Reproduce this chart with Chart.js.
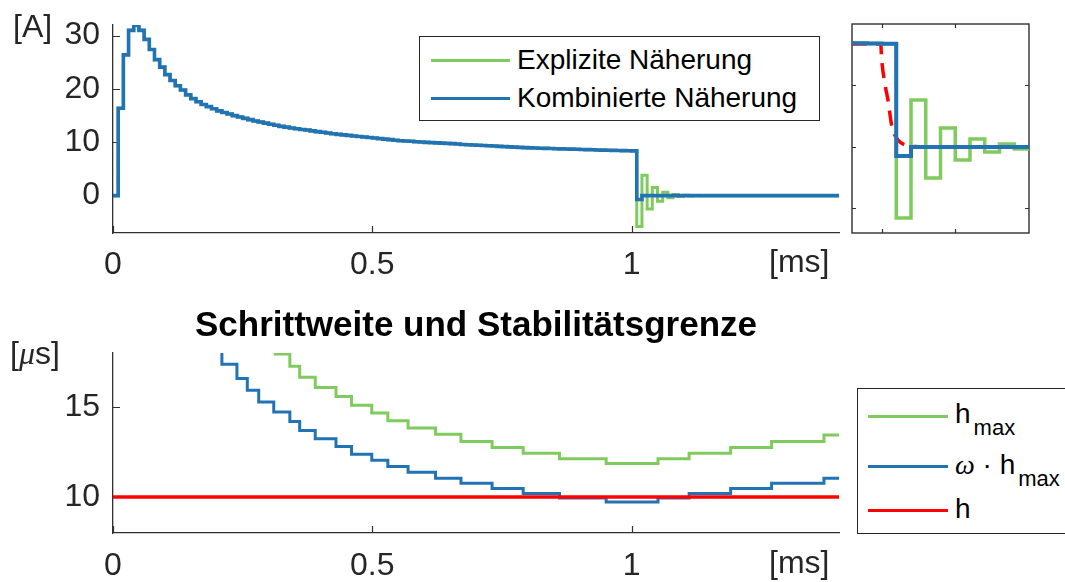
<!DOCTYPE html>
<html>
<head>
<meta charset="utf-8">
<script src="https://cdn.jsdelivr.net/npm/chart.js@4/dist/chart.umd.min.js"></script>
<style>
  html, body { margin:0; padding:0; background:#fff; }
  body { width:1065px; height:582px; overflow:hidden; position:relative;
         font-family:"Liberation Sans", Arial, Helvetica, sans-serif; }
  canvas { position:absolute; }
  .txt { position:absolute; white-space:nowrap; color:#262626; }
  .unit { font-size:32px; line-height:32px; }
  .greek { font-family:"Liberation Serif", "DejaVu Serif", serif; font-style:italic; }
  .legbox { position:absolute; border:1px solid #262626; background:#fff; box-sizing:border-box; }
  .swatch { position:absolute; height:3px; }
  .legtxt { position:absolute; white-space:nowrap; color:#000; font-size:28px; line-height:28px; }
  .sub { font-size:22px; vertical-align:-12px; margin-left:3px; }
</style>
</head>
<body>
<canvas id="mainChart" width="850" height="293" style="left:0;top:0"></canvas>
<canvas id="insetChart" width="205" height="250" style="left:840px;top:0"></canvas>
<canvas id="stepChart" width="952" height="290" style="left:0;top:300px"></canvas>

<div class="txt unit" style="left:13px;top:10px">[A]</div>
<div class="txt unit" style="left:769px;top:245px">[ms]</div>
<div class="txt unit" style="left:10px;top:337px">[<span class="greek">μ</span>s]</div>
<div class="txt unit" style="left:769px;top:546px">[ms]</div>

<div id="legendTop"></div>
<div id="legendBottom"></div>

<script>
// ================= DATA =================
// Time grid of the simulation: constant step h = 10 µs = 0.01 ms
const stepMs = 0.01;
const switchMs = 1.01;   // first step after the switching event
const endMs = 1.4;

// Current [A] per step, identical for both approximations up to the switching (t = 0 ... 1.00 ms)
const currentShared = [
  0, 16.4, 26.4, 31.0, 31.9, 31.0, 29.3, 27.4, 25.5, 24.1,
  22.7, 21.6, 20.6, 19.8, 18.9, 18.2, 17.6, 17.1, 16.7, 16.3,
  15.9, 15.6, 15.3, 15.0, 14.75, 14.5, 14.25, 14.0, 13.8, 13.6,
  13.4, 13.2, 13.0, 12.85, 12.7, 12.55, 12.4, 12.3, 12.15, 12.0,
  11.9, 11.75, 11.6, 11.5, 11.4, 11.3, 11.2, 11.1, 11.0, 10.9,
  10.8, 10.7, 10.6, 10.5, 10.4, 10.3, 10.25, 10.2, 10.1, 10.05,
  10.0, 9.95, 9.9, 9.85, 9.8, 9.75, 9.7, 9.6, 9.55, 9.5,
  9.45, 9.4, 9.35, 9.3, 9.25, 9.2, 9.15, 9.1, 9.05, 9.0,
  8.97, 8.94, 8.9, 8.87, 8.84, 8.81, 8.78, 8.75, 8.72, 8.69,
  8.66, 8.63, 8.6, 8.57, 8.54, 8.51, 8.49, 8.46, 8.44, 8.42,
  8.4
];
// After the switching (from 1.01 ms), last value held to the end
const currentKombAfter = [-0.73, 0];
const currentExplAfter = [-5.78, 3.82, -2.52, 1.55, -1.06, 0.65, -0.41, 0.24, -0.16, 0.1, -0.06, 0.03, 0];

// Exact solution shown in the zoom window (red dashed)
const exactTimeMs  = [0.98, 0.9995, 1.0, 1.0022, 1.0044, 1.0071, 1.0112, 1.016, 1.0227, 1.03, 1.10];
const exactCurrent = [8.38, 8.38, 7.3, 5.2, 3.8, 1.63, 0.57, 0.16, 0.03, 0, 0];

const mainXTicks = [0, 0.5, 1];
const mainXTickLabels = ['0', '0.5', '1'];
const mainYTicks = [0, 10, 20, 30];
const mainYTickLabels = ['0', '10', '20', '30'];
const insetXTicks = [1.0, 1.05];
const insetYTicks = [-5, 0, 5];

// Step size plot [µs]: times where the step functions change [ms]
const stepChangeMs = [0.21, 0.239, 0.259, 0.281, 0.310, 0.341, 0.360, 0.390, 0.430, 0.460,
                      0.499, 0.530, 0.569, 0.622, 0.671, 0.731, 0.791, 0.861, 0.951, 1.051,
                      1.111, 1.191, 1.270, 1.371];
const omegaHmaxUs = [17.37, 16.58, 15.93, 15.28, 14.72, 14.2, 13.7, 13.24, 12.8, 12.37,
                     12.04, 11.69, 11.37, 11.04, 10.76, 10.47, 10.2, 9.94, 9.72, 9.94,
                     10.2, 10.47, 10.76, 11.04];
const omegaHmaxAboveUs = 18.6;   // level before the first visible step (above the axis)
const hmaxUs = [17.94, 17.26, 16.65, 16.09, 15.59, 15.1, 14.66, 14.23, 13.83, 13.49,
                13.08, 12.75, 12.43, 12.13, 11.86, 12.13, 12.43, 12.75, 13.08, 13.45]; // from 0.310 ms
const hUs = 10;

const stepYTicks = [10, 15];
const stepYTickLabels = ['10', '15'];

const seriesNames = {
  expl: 'Explizite Näherung',
  komb: 'Kombinierte Näherung',
  hmax: 'h_max',
  omega: 'ω · h_max',
  h: 'h'
};
const stepTitle = 'Schrittweite und Stabilitätsgrenze';

// ================= BUILD =================
const GREEN = '#80CB5E';
const BLUE = '#2173B3';
const RED = '#FF0000';
const AXIS = '#303030';
const FONT = '"Liberation Sans", Arial, Helvetica, sans-serif';

function stepSeries(shared, after) {
  const pts = shared.map((v, i) => ({ x: i * stepMs, y: v }));
  after.forEach((v, j) => pts.push({ x: switchMs + j * stepMs, y: v }));
  pts.push({ x: endMs, y: after[after.length - 1] });
  return pts;
}
const kombPts = stepSeries(currentShared, currentKombAfter);
const explPts = stepSeries(currentShared, currentExplAfter);
const exactPts = exactTimeMs.map((t, i) => ({ x: t, y: exactCurrent[i] }));

const omegaPts = [{ x: stepChangeMs[0] - 0.02, y: omegaHmaxAboveUs }]
  .concat(stepChangeMs.map((t, i) => ({ x: t, y: omegaHmaxUs[i] })))
  .concat([{ x: endMs, y: omegaHmaxUs[omegaHmaxUs.length - 1] }]);
const hmaxOffset = stepChangeMs.length - hmaxUs.length;
const hmaxPts = hmaxUs.map((v, k) => ({ x: stepChangeMs[hmaxOffset + k], y: v }))
  .concat([{ x: endMs, y: hmaxUs[hmaxUs.length - 1] }]);
const hPts = [{ x: 0, y: hUs }, { x: endMs, y: hUs }];

// Inward tick marks (and optional full box)
const axesDecor = {
  id: 'axesDecor',
  beforeDatasetsDraw(chart, args, o) {
    const { ctx, chartArea: a, scales } = chart;
    ctx.save();
    ctx.strokeStyle = o.color || AXIS;
    ctx.lineWidth = o.width || 1.2;
    ctx.beginPath();
    (o.xTicks || []).forEach(v => {
      const px = Math.round(scales.x.getPixelForValue(v)) + 0.5;
      ctx.moveTo(px, a.bottom); ctx.lineTo(px, a.bottom - o.len);
      if (o.box) { ctx.moveTo(px, a.top); ctx.lineTo(px, a.top + o.len); }
    });
    (o.yTicks || []).forEach(v => {
      const py = Math.round(scales.y.getPixelForValue(v)) + 0.5;
      ctx.moveTo(a.left, py); ctx.lineTo(a.left + o.len, py);
      if (o.box) { ctx.moveTo(a.right, py); ctx.lineTo(a.right - o.len, py); }
    });
    ctx.stroke();
    if (o.box) {
      ctx.lineWidth = o.boxWidth || 1.4;
      ctx.strokeRect(a.left, a.top, a.right - a.left, a.bottom - a.top);
    }
    ctx.restore();
  }
};

function lineDs(label, pts, color, width, extra) {
  return Object.assign({
    label, data: pts, borderColor: color, backgroundColor: color,
    borderWidth: width, pointRadius: 0, fill: false, stepped: true,
    borderJoinStyle: 'miter', borderCapStyle: 'butt'
  }, extra || {});
}

function xScale(min, max, ticks, labels, axisH, pad) {
  return {
    type: 'linear', min, max,
    afterBuildTicks: s => { s.ticks = ticks.map(v => ({ value: v })); },
    afterFit: s => { s.height = axisH; s.paddingLeft = 0; s.paddingRight = 0; },
    grid: { display: false, drawTicks: false },
    border: { display: true, color: AXIS, width: 1.3 },
    ticks: { autoSkip: false, maxRotation: 0, padding: pad, color: '#262626',
             font: { family: FONT, size: 32 },
             callback: (v, i) => labels[i] }
  };
}
function yScale(min, max, ticks, labels) {
  return {
    type: 'linear', min, max,
    afterBuildTicks: s => { s.ticks = ticks.map(v => ({ value: v })); },
    afterFit: s => { s.width = 113; s.paddingTop = 0; s.paddingBottom = 0; },
    grid: { display: false, drawTicks: false },
    border: { display: true, color: AXIS, width: 1.3 },
    ticks: { autoSkip: false, padding: 13, color: '#262626',
             font: { family: FONT, size: 32 },
             callback: (v, i) => labels[i] }
  };
}
// empty right-hand box so that the title is centred over the plot area
const spacerRight = {
  type: 'linear', position: 'right', min: 0, max: 1,
  afterFit: s => { s.width = 113; s.paddingTop = 0; s.paddingBottom = 0; },
  grid: { display: false, drawTicks: false },
  border: { display: false },
  ticks: { display: false }
};

const baseOpts = {
  responsive: false, animation: false, devicePixelRatio: 1,
  events: [],
  plugins: { legend: { display: false }, tooltip: { enabled: false } }
};

// ---- Main current chart ----
const mainChart = new Chart(document.getElementById('mainChart'), {
  type: 'line',
  data: { datasets: [
    lineDs(seriesNames.expl, explPts, GREEN, 3, { order: 1 }),
    lineDs(seriesNames.komb, kombPts, BLUE, 3.6, { order: 0 })
  ]},
  options: Object.assign({}, baseOpts, {
    layout: { padding: { top: 25, left: 0, right: 11, bottom: 0 } },
    scales: {
      x: xScale(0, endMs, mainXTicks, mainXTickLabels, 60, 13),
      y: yScale(-7, 32, mainYTicks, mainYTickLabels)
    },
    plugins: Object.assign({}, baseOpts.plugins, {
      axesDecor: { xTicks: mainXTicks, yTicks: mainYTicks, len: 7 }
    })
  }),
  plugins: [axesDecor]
});

// ---- Inset (zoom around switching) ----
const insetChart = new Chart(document.getElementById('insetChart'), {
  type: 'line',
  data: { datasets: [
    lineDs('Exakt', exactPts, RED, 3.5, { order: 2, stepped: false, borderDash: [15, 9],
            cubicInterpolationMode: 'monotone' }),
    lineDs(seriesNames.expl, explPts, GREEN, 3.5, { order: 1 }),
    lineDs(seriesNames.komb, kombPts, BLUE, 4, { order: 0 })
  ]},
  options: Object.assign({}, baseOpts, {
    layout: { padding: { top: 24, left: 12, right: 16, bottom: 17 } },
    scales: {
      x: { type: 'linear', min: 0.98, max: 1.10, display: false },
      y: { type: 'linear', min: -7, max: 10, display: false }
    },
    plugins: Object.assign({}, baseOpts.plugins, {
      axesDecor: { xTicks: insetXTicks, yTicks: insetYTicks, len: 4, box: true }
    })
  }),
  plugins: [axesDecor]
});

// ---- Step size chart ----
const stepChart = new Chart(document.getElementById('stepChart'), {
  type: 'line',
  data: { datasets: [
    lineDs(seriesNames.hmax, hmaxPts, GREEN, 3, { order: 2 }),
    lineDs(seriesNames.omega, omegaPts, BLUE, 3, { order: 1 }),
    lineDs(seriesNames.h, hPts, RED, 3.5, { order: 0, stepped: false })
  ]},
  options: Object.assign({}, baseOpts, {
    layout: { padding: { top: 0, left: 0, right: 0, bottom: 0 } },
    scales: {
      x: xScale(0, endMs, mainXTicks, mainXTickLabels, 57, 14),
      y: yScale(8, 18, stepYTicks, stepYTickLabels),
      yRight: spacerRight
    },
    plugins: Object.assign({}, baseOpts.plugins, {
      title: { display: true, text: stepTitle, color: '#000',
               font: { family: FONT, size: 35, weight: 'bold' },
               padding: { top: 5, bottom: 6 } },
      axesDecor: { xTicks: mainXTicks, yTicks: stepYTicks, len: 7 }
    })
  }),
  plugins: [axesDecor]
});

// ---- HTML legends built from the chart datasets ----
function labelHtml(label) {
  const parts = label.split('_');
  let html = parts[0].replace(/ω/g, '<span class="greek">ω</span>');
  if (parts[1]) html += '<span class="sub">' + parts[1] + '</span>';
  return html;
}
function buildLegend(el, chart, names, box, rowYs, swX, swW, textX, baseOffsets) {
  const b = document.createElement('div');
  b.className = 'legbox';
  Object.assign(b.style, { left: box.x + 'px', top: box.y + 'px', width: box.w + 'px', height: box.h + 'px' });
  el.appendChild(b);
  names.forEach((name, k) => {
    const ds = chart.data.datasets.find(d => d.label === name);
    const sw = document.createElement('div');
    sw.className = 'swatch';
    Object.assign(sw.style, { left: swX + 'px', top: (rowYs[k] - 1.5) + 'px', width: swW + 'px', background: ds.borderColor });
    el.appendChild(sw);
    const t = document.createElement('div');
    t.className = 'legtxt';
    t.innerHTML = labelHtml(ds.label);
    const baseline = rowYs[k] + baseOffsets[k];
    Object.assign(t.style, { left: textX + 'px', top: (baseline - 0.8465 * 28) + 'px' });
    el.appendChild(t);
  });
}
buildLegend(document.getElementById('legendTop'), mainChart,
  [seriesNames.expl, seriesNames.komb],
  { x: 419, y: 36, w: 401, h: 85 }, [60, 98], 431, 79, 517, [10, 10]);
buildLegend(document.getElementById('legendBottom'), stepChart,
  [seriesNames.hmax, seriesNames.omega, seriesNames.h],
  { x: 857, y: 388, w: 230, h: 146 }, [416.7, 466.7, 510], 868, 80, 955, [7, 8, 9]);
</script>
</body>
</html>
